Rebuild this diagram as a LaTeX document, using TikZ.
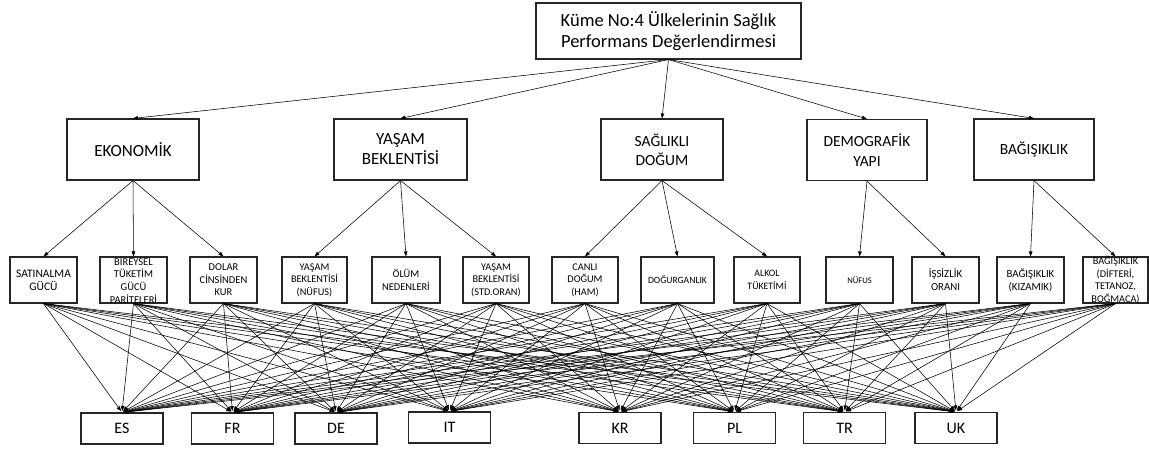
\documentclass[tikz,border=0pt]{standalone}
\usepackage{fontspec}
\setmainfont{Carlito}
\usetikzlibrary{arrows.meta}
\begin{document}
\begin{tikzpicture}[x=1pt,y=-1pt,
  box/.style={draw=black!85, line width=1.1pt, inner sep=0pt, align=center},
  fs/.style 2 args={font=\fontsize{#1}{#2}\selectfont},
  lvtwo/.style={box, minimum width=#1, minimum height=61pt, fs={17}{20}},
  cell/.style={box, minimum width=#1, minimum height=46pt},
  country/.style={box, minimum width=82pt, minimum height=31pt, fs={16}{19}},
  conn/.style={line width=0.55pt, -{Triangle[length=5pt,width=3.6pt]}}]
\useasboundingbox (0,0) rectangle (1149,449);
% top
\node[box, minimum width=265pt, minimum height=56pt, fs={18.5}{21}] (top) at (668.5,31)
  {Küme No:4 Ülkelerinin Sağlık\\Performans Değerlendirmesi};
% level 2
\node[lvtwo=132pt] (eko) at (133,149.5) {EKONOMİK};
\node[lvtwo=133pt] (yas) at (400.5,149.5) {YAŞAM\\BEKLENTİSİ};
\node[lvtwo=122pt, fs={15.5}{19.5}] (sag) at (662,149.5) {SAĞLIKLI\\DOĞUM};
\node[lvtwo=120pt, fs={15.5}{19.5}] (dem) at (867,150) {DEMOGRAFİK\\YAPI};
\node[lvtwo=120pt, fs={15.5}{19.5}] (bag) at (1034,149.5) {BAĞIŞIKLIK};
% level 3
\node[cell=67pt, fs={11.5}{13.3}] (sat) at (43.5,280) {SATINALMA\\GÜCÜ};
\node[cell=67pt, label={[fs={10.5}{12.8}, align=center, inner sep=0pt]center:{BİREYSEL\\TÜKETİM\\GÜCÜ\\PARİTELERİ}}] (bir) at (133.5,280) {};
\node[cell=67pt, fs={10.5}{12.6}] (dol) at (223.5,280) {DOLAR\\CİNSİNDEN\\KUR};
\node[cell=65pt, fs={10.3}{12.6}] (yn) at (314.5,280) {YAŞAM\\BEKLENTİSİ\\(NÜFUS)};
\node[cell=68pt, fs={10.4}{12.6}] (olu) at (406,280) {ÖLÜM\\NEDENLERİ};
\node[cell=66pt, fs={10.3}{12.6}] (ys) at (496,280) {YAŞAM\\BEKLENTİSİ\\(STD.ORAN)};
\node[cell=66pt, fs={10.3}{12.6}] (can) at (585,280) {CANLI\\DOĞUM\\(HAM)};
\node[cell=73pt, fs={9.6}{12}] (dog) at (677.5,280) {DOĞURGANLIK};
\node[cell=66pt, fs={9.8}{12.6}] (alk) at (767,280) {ALKOL\\TÜKETİMİ};
\node[cell=67pt, fs={8.6}{11}] (nuf) at (859.5,280) {NÜFUS};
\node[cell=67pt, fs={10.8}{12.8}] (iss) at (945.5,280) {İŞSİZLİK\\ORANI};
\node[cell=67pt, fs={10.8}{12.8}] (bk) at (1030.5,280) {BAĞIŞIKLIK\\(KIZAMIK)};
\node[cell=65pt, label={[fs={10.3}{12.7}, align=center, inner sep=0pt]center:{BAĞIŞIKLIK\\(DİFTERİ,\\TETANOZ,\\BOĞMACA)}}] (bd) at (1115.5,280) {};
% countries
\node[country] (es) at (122,428.5) {ES};
\node[country] (fr) at (232.5,428.5) {FR};
\node[country] (de) at (336,428.5) {DE};
\node[country] (it) at (449.5,427.5) {IT};
\node[country] (kr) at (620,428) {KR};
\node[country] (pl) at (734.5,428) {PL};
\node[country] (tr) at (844.5,428) {TR};
\node[country] (uk) at (956,428) {UK};
% connectors
\foreach \b in {eko,yas,sag,dem,bag} \draw[conn] (top.south) -- (\b.north);
\foreach \b in {sat,bir,dol} \draw[conn] (eko.south) -- (\b.north);
\foreach \b in {yn,olu,ys} \draw[conn] (yas.south) -- (\b.north);
\foreach \b in {can,dog,alk} \draw[conn] (sag.south) -- (\b.north);
\foreach \b in {nuf,iss} \draw[conn] (dem.south) -- (\b.north);
\foreach \b in {bk,bd} \draw[conn] (bag.south) -- (\b.north);
\foreach \a in {sat,bir,dol,yn,olu,ys,can,dog,alk,nuf,iss,bk,bd}
  \foreach \b in {es,fr,de,it,kr,pl,tr,uk}
    \draw[conn, shorten >=1.5pt] (\a.south) -- (\b.north);
\end{tikzpicture}
\end{document}
